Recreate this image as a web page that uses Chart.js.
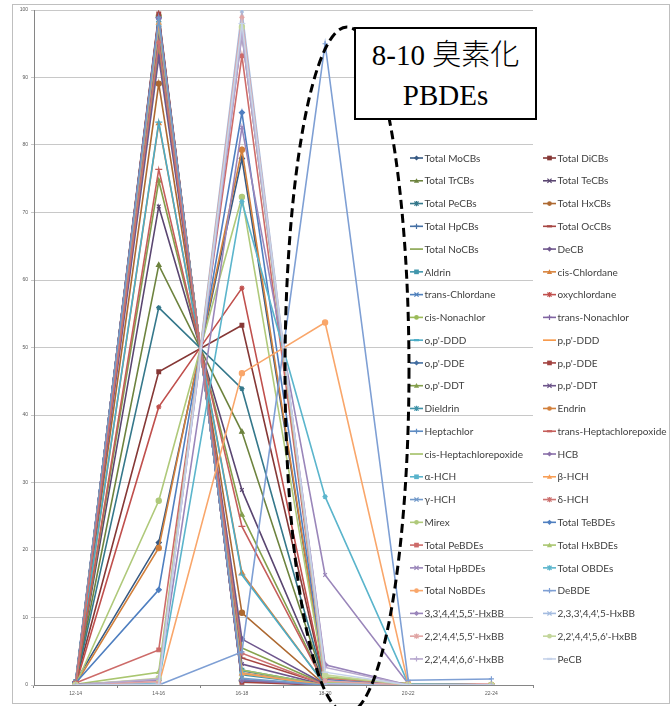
<!DOCTYPE html>
<html><head><meta charset="utf-8">
<script src="https://cdn.jsdelivr.net/npm/chart.js@4/dist/chart.umd.min.js"></script>
<style>
html,body{margin:0;padding:0;background:#fff;}
#wrap{position:relative;width:672px;height:706px;overflow:hidden;background:#fff;}
#c{position:absolute;left:0;top:0;}
#note{position:absolute;left:354px;top:27px;width:183px;height:93px;border:2px solid #000;background:#fff;box-sizing:border-box;font-family:"Liberation Serif","Noto Sans CJK JP",serif;font-size:29px;color:#000;}
#note div{position:absolute;left:0;right:0;text-align:center;line-height:29px;white-space:nowrap;}
</style></head><body>
<div id="wrap"><canvas id="c" width="672" height="706"></canvas>
<div id="note"><div style="top:9px">8-10 <span style="font-family:'Noto Sans CJK JP';font-weight:300">臭素化</span></div><div style="top:52px">PBDEs</div></div></div>
<script>
const CATEGORIES = ['12-14','14-16','16-18','18-20','20-22','22-24'];
const Y_TICKS = [0,10,20,30,40,50,60,70,80,90,100];
const SERIES_NAMES = ['Total MoCBs','Total DiCBs','Total TrCBs','Total TeCBs','Total PeCBs','Total HxCBs','Total HpCBs','Total OcCBs','Total NoCBs','DeCB','Aldrin','cis-Chlordane','trans-Chlordane','oxychlordane','cis-Nonachlor','trans-Nonachlor',"o,p'-DDD","p,p'-DDD","o,p'-DDE","p,p'-DDE","o,p'-DDT","p,p'-DDT",'Dieldrin','Endrin','Heptachlor','trans-Heptachlorepoxide','cis-Heptachlorepoxide','HCB','α-HCH','β-HCH','γ-HCH','δ-HCH','Mirex','Total TeBDEs','Total PeBDEs','Total HxBDEs','Total HpBDEs','Total OBDEs','Total NoBDEs','DeBDE',"3,3',4,4',5,5'-HxBB","2,3,3',4,4',5-HxBB","2,2',4,4',5,5'-HxBB","2,2',4,4',5,6'-HxBB","2,2',4,4',6,6'-HxBB",'PeCB'];

const MoCBs = [0.5, 21.1, 78.0, 0.4, 0, 0];
const DiCBs = [0.3, 46.4, 53.3, 0, 0, 0];
const TrCBs = [0.3, 62.2, 37.5, 0, 0, 0];
const TeCBs = [0.2, 70.9, 28.9, 0, 0, 0];
const PeCBs = [0.2, 55.9, 43.9, 0, 0, 0];
const HxCBs = [0.2, 89.1, 10.7, 0, 0, 0];
const HpCBs = [0.3, 97.6, 2.1, 0, 0, 0];
const OcCBs = [0.3, 95.6, 4.0, 0.1, 0, 0];
const NoCBs = [0.2, 94.2, 5.5, 0.1, 0, 0];
const DeCB = [0.1, 93.0, 6.8, 0.1, 0, 0];
const Aldrin = [0.5, 97.3, 2.2, 0, 0, 0];
const cisChlordane = [0.2, 83.2, 16.6, 0, 0, 0];
const transChlordane = [0.3, 99.0, 0.7, 0, 0, 0];
const oxychlordane = [0, 41.2, 58.8, 0, 0, 0];
const cisNonachlor = [0.2, 99.1, 0.7, 0, 0, 0];
const transNonachlor = [0.2, 99.2, 0.6, 0, 0, 0];
const opDDD = [0.3, 83.4, 16.3, 0, 0, 0];
const ppDDD = [0.2, 98.0, 1.8, 0, 0, 0];
const opDDE = [0.5, 98.9, 0.6, 0, 0, 0];
const ppDDE = [0.2, 99.4, 0.4, 0, 0, 0];
const opDDT = [0.1, 74.7, 25.2, 0, 0, 0];
const ppDDT = [0.2, 96.7, 3.1, 0, 0, 0];
const Dieldrin = [0.2, 98.3, 1.5, 0, 0, 0];
const Endrin = [0.1, 20.3, 79.3, 0.3, 0, 0];
const Heptachlor = [0.6, 98.6, 0.8, 0, 0, 0];
const transHeptachlorepoxide = [0.1, 76.4, 23.5, 0, 0, 0];
const cisHeptachlorepoxide = [0.2, 97.6, 2.2, 0, 0, 0];
const HCB = [0.5, 98.8, 0.7, 0, 0, 0];
const alphaHCH = [0.4, 97.9, 1.7, 0, 0, 0];
const betaHCH = [0.2, 98.1, 1.7, 0, 0, 0];
const gammaHCH = [0.3, 98.7, 1.0, 0, 0, 0];
const deltaHCH = [0.1, 95.2, 4.7, 0, 0, 0];
const Mirex = [0, 27.3, 72.3, 0.4, 0, 0];
const TeBDEs = [0.3, 14.1, 84.8, 0.8, 0, 0];
const PeBDEs = [0.3, 5.2, 93.2, 1.0, 0.2, 0.1];
const HxBDEs = [0.1, 1.9, 96.6, 1.2, 0.2, 0];
const HpBDEs = [0.1, 0.8, 82.6, 16.3, 0.2, 0];
const OBDEs = [0, 0.3, 71.6, 27.9, 0.2, 0];
const NoBDEs = [0, 0, 46.2, 53.7, 0.1, 0];
const DeBDE = [0, 0, 4.9, 95.0, 0.7, 0.9];
const HxBB_334455 = [0, 0.7, 96.3, 3.0, 0, 0];
const HxBB_233445 = [0, 0.1, 99.9, 0.2, 0, 0];
const HxBB_224455 = [0, 0.5, 98.9, 0.6, 0, 0];
const HxBB_224456 = [0, 1.0, 97.5, 1.5, 0, 0];
const HxBB_224466 = [0, 0.9, 96.5, 2.6, 0, 0];
const PeCB = [0, 0.1, 98.0, 1.9, 0, 0];

const SERIES_VALUES = [MoCBs,DiCBs,TrCBs,TeCBs,PeCBs,HxCBs,HpCBs,OcCBs,NoCBs,DeCB,Aldrin,cisChlordane,transChlordane,oxychlordane,cisNonachlor,transNonachlor,opDDD,ppDDD,opDDE,ppDDE,opDDT,ppDDT,Dieldrin,Endrin,Heptachlor,transHeptachlorepoxide,cisHeptachlorepoxide,HCB,alphaHCH,betaHCH,gammaHCH,deltaHCH,Mirex,TeBDEs,PeBDEs,HxBDEs,HpBDEs,OBDEs,NoBDEs,DeBDE,HxBB_334455,HxBB_233445,HxBB_224455,HxBB_224456,HxBB_224466,PeCB];

// ---- styles ----
const BASE = ['#4F81BD','#C0504D','#9BBB59','#8064A2','#4BACC6','#F79646'];
const GROUP_SHADE = [-0.3,-0.13,0,-0.15,0.08,0.2];
function shade(hex,f){
  const n=parseInt(hex.slice(1),16);let r=n>>16,g=(n>>8)&255,b=n&255;
  const m=c=>Math.round(f<0?c*(1+f):c+(255-c)*f);
  return 'rgb('+m(r)+','+m(g)+','+m(b)+')';
}
const LATE_COLORS = ['#4F7FC0','#CD6B69','#A9C66F','#9A86BA','#5BB5CC','#F9A66A','#7E9FD4','#9984BA','#A4BCE0','#E0A4A3','#C3D69B','#B8A9CF','#C6D3EA'];
const MARK9 = ['rectRot','rect','triangle','crossRot','star','circle','cross','line',null];
const LATE_MARKS = ['rectRot','rect','triangle','crossRot','star','circle','cross','rectRot','crossRot','star','circle','cross','line'];
function colorOf(i){return i<33?shade(BASE[i%6],GROUP_SHADE[Math.floor(i/6)]):LATE_COLORS[i-33];}
function markOf(i){return i<33?MARK9[i%9]:LATE_MARKS[i-33];}

const datasets = SERIES_NAMES.map((name,i)=>{
  const col=colorOf(i), mk=markOf(i);
  return {label:name,data:SERIES_VALUES[i],borderColor:col,backgroundColor:col,
    pointBorderColor:col,pointBackgroundColor:col,borderWidth:1.6,tension:0,
    pointStyle:mk||'circle',pointRadius:mk?(mk==='line'?3.5:2.6):0,pointBorderWidth:1.2,
    order:SERIES_NAMES.length-i};
});

function drawMarker(ctx,style,x,y,r,col){
  ctx.save();ctx.fillStyle=col;ctx.strokeStyle=col;ctx.lineWidth=1.2;ctx.beginPath();
  switch(style){
    case 'rectRot':ctx.moveTo(x,y-r);ctx.lineTo(x+r,y);ctx.lineTo(x,y+r);ctx.lineTo(x-r,y);ctx.closePath();ctx.fill();break;
    case 'rect':ctx.rect(x-r*0.9,y-r*0.9,r*1.8,r*1.8);ctx.fill();break;
    case 'triangle':ctx.moveTo(x,y-r);ctx.lineTo(x+r,y+r*0.8);ctx.lineTo(x-r,y+r*0.8);ctx.closePath();ctx.fill();break;
    case 'crossRot':ctx.moveTo(x-r*0.8,y-r*0.8);ctx.lineTo(x+r*0.8,y+r*0.8);ctx.moveTo(x+r*0.8,y-r*0.8);ctx.lineTo(x-r*0.8,y+r*0.8);ctx.stroke();break;
    case 'star':ctx.moveTo(x-r*0.8,y-r*0.8);ctx.lineTo(x+r*0.8,y+r*0.8);ctx.moveTo(x+r*0.8,y-r*0.8);ctx.lineTo(x-r*0.8,y+r*0.8);ctx.moveTo(x,y-r);ctx.lineTo(x,y+r);ctx.stroke();break;
    case 'circle':ctx.arc(x,y,r*0.9,0,Math.PI*2);ctx.fill();break;
    case 'cross':ctx.moveTo(x-r,y);ctx.lineTo(x+r,y);ctx.moveTo(x,y-r);ctx.lineTo(x,y+r);ctx.stroke();break;
    case 'line':ctx.lineWidth=2.2;ctx.moveTo(x-r,y);ctx.lineTo(x+r,y);ctx.stroke();break;
  }
  ctx.restore();
}

const decor = {
  id:'decor',
  beforeDraw(chart){
    const ctx=chart.ctx;ctx.save();
    ctx.fillStyle='#fff';ctx.fillRect(0,0,672,706);
    ctx.strokeStyle='#BFBFBF';ctx.lineWidth=1;ctx.strokeRect(12.5,4.5,657,699);
    ctx.restore();
  },
  afterDraw(chart){
    const ctx=chart.ctx;ctx.save();
    // legend
    ctx.font='10px Lato, "Liberation Sans", sans-serif';ctx.textBaseline='middle';ctx.fillStyle='#404040';
    SERIES_NAMES.forEach((name,i)=>{
      const col=i%2, row=Math.floor(i/2);
      const y=158+row*22.77, x0=col?543:410;
      const c=colorOf(i);
      ctx.strokeStyle=c;ctx.lineWidth=1.6;ctx.beginPath();ctx.moveTo(x0,y);ctx.lineTo(x0+13,y);ctx.stroke();
      const mk=markOf(i); if(mk) drawMarker(ctx,mk,x0+6.5,y,2.6,c);
      ctx.fillStyle='#404040';ctx.fillText(name,x0+14.5,y+0.5);
    });
    // dashed ellipse
    ctx.strokeStyle='#000';ctx.lineWidth=3;ctx.setLineDash([9,5]);
    ctx.beginPath();ctx.ellipse(347,370,62,343,0,0,Math.PI*2);ctx.stroke();
    ctx.restore();
  }
};

new Chart(document.getElementById('c'),{
  type:'line',
  data:{labels:CATEGORIES,datasets},
  options:{
    responsive:false,animation:false,devicePixelRatio:1,
    layout:{padding:{top:10,right:139,left:0,bottom:0}},
    plugins:{legend:{display:false},tooltip:{enabled:false}},
    scales:{
      x:{offset:true,
        grid:{display:true,drawOnChartArea:false,offset:true,tickLength:3,color:'#868686'},
        border:{color:'#868686',width:1},
        ticks:{font:{size:5,family:'"Liberation Sans", sans-serif'},color:'#595959',padding:3,maxRotation:0},
        afterFit(s){s.height=21;}},
      y:{min:0,max:100,
        afterBuildTicks(s){s.ticks=Y_TICKS.map(v=>({value:v}));},
        grid:{color:'#C8C8C8',lineWidth:1,tickLength:3},
        border:{color:'#868686',width:1},
        ticks:{font:{size:5,family:'"Liberation Sans", sans-serif'},color:'#595959',padding:3},
        afterFit(s){s.width=34;}}
    }
  },
  plugins:[decor]
});
</script>
</body></html>
